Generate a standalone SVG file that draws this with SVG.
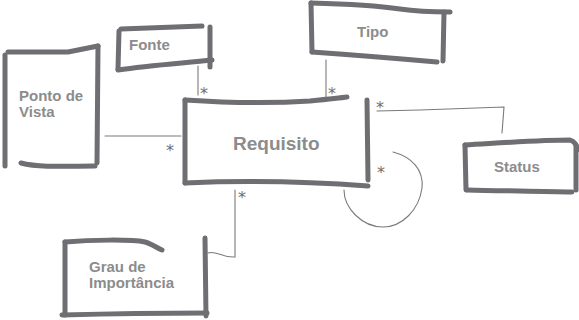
<svg xmlns="http://www.w3.org/2000/svg" width="579" height="320" viewBox="0 0 579 320">
<style>
.box{fill:none;stroke:#6e6e73;stroke-width:5;stroke-linecap:round;stroke-linejoin:round}
.lbl{font-family:"Liberation Sans",Arial,sans-serif;font-weight:bold;fill:#8c8c8c;font-size:15px}
.big{font-size:19px}
.con{fill:none;stroke:#7a7a7a;stroke-width:1.1;stroke-linecap:round}
.ast{font-family:"DejaVu Sans",sans-serif;fill:#6e6e6e;font-size:16px}
</style>
<rect width="579" height="320" fill="#ffffff"/>
<g id="connectors">
<path class="con" d="M198 66 L198 95"/>
<path class="con" d="M326 60 L326 97"/>
<path class="con" d="M105 136 L181 136"/>
<path class="con" d="M377 111 L420 110 L504 107 L502 133"/>
<path class="con" d="M393 152 C412 157 424 170 422 188 C419 210 402 227 383 227 C362 227 344 208 344 190"/>
<path class="con" d="M208 253 C216 250 222 258 235 257 L235 190"/>
<text class="ast" x="200" y="99">*</text>
<text class="ast" x="328" y="99">*</text>
<text class="ast" x="166" y="156">*</text>
<text class="ast" x="376" y="113">*</text>
<text class="ast" x="377" y="178">*</text>
<text class="ast" x="238" y="203">*</text>
</g>
<g id="ponto-de-vista">
<path class="box" d="M8 52 L68 52 L98 46"/>
<path class="box" d="M5 55 L5 166"/>
<path class="box" d="M98 46 L97 163"/>
<path class="box" d="M21 163 C40 168 70 166 95 166"/>
<text class="lbl" x="19" y="101">Ponto de</text>
<text class="lbl" x="19" y="117">Vista</text>
</g>
<g id="fonte">
<path class="box" d="M121 29 L202 26"/>
<path class="box" d="M119 31 L118 69"/>
<path class="box" d="M210 27 L210 67"/>
<path class="box" d="M118 70 C150 65 185 63 212 60"/>
<text class="lbl" x="129" y="50">Fonte</text>
</g>
<g id="tipo">
<path class="box" d="M311 3 C350 4 380 6 400 9 C420 12 440 12 450 12"/>
<path class="box" d="M311 3 L312 52"/>
<path class="box" d="M444 12 L443 61"/>
<path class="box" d="M312 52 C340 54 380 57 437 62"/>
<text class="lbl" x="357" y="37">Tipo</text>
</g>
<g id="requisito">
<path class="box" d="M185 100 C230 103 280 103 310 101 C330 99 340 98 347 97"/>
<path class="box" d="M185 100 L185 183"/>
<path class="box" d="M367 100 L368 180"/>
<path class="box" d="M185 183 C230 181 300 181 368 186"/>
<text class="lbl big" x="233" y="150">Requisito</text>
</g>
<g id="status">
<path class="box" d="M465 145 C500 143 540 140 570 140 C576 142 577 146 577 150"/>
<path class="box" d="M465 145 L466 190"/>
<path class="box" d="M576 145 L576 190"/>
<path class="box" d="M467 190 C500 191 540 191 572 192"/>
<text class="lbl" x="494" y="172">Status</text>
</g>
<g id="grau-de-importancia">
<path class="box" d="M65 242 C90 240 130 239 145 242 C152 244 157 248 162 250"/>
<path class="box" d="M65 242 L65 315"/>
<path class="box" d="M205 238 L206 316"/>
<path class="box" d="M62 315 C100 314 160 313 207 313"/>
<text class="lbl" x="89" y="272">Grau de</text>
<text class="lbl" x="89" y="288">Importância</text>
</g>
</svg>
